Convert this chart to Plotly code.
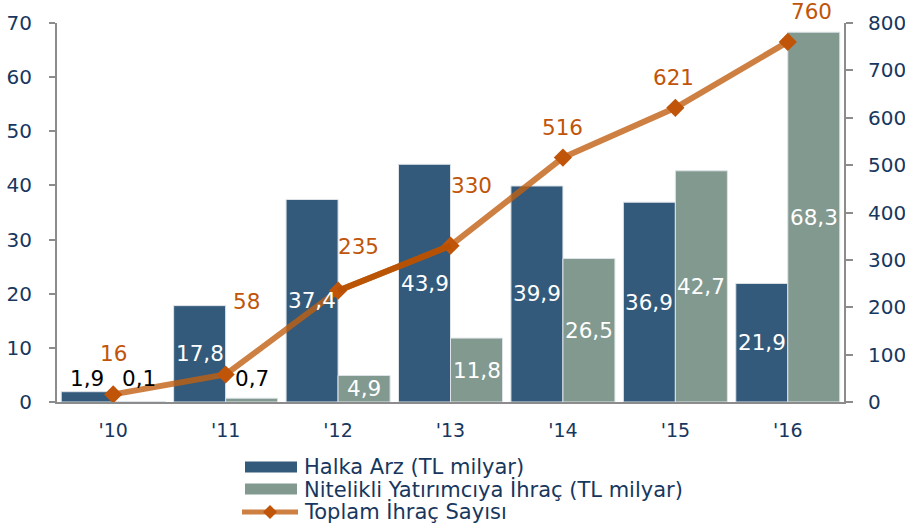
import plotly.graph_objects as go

years = ["'10", "'11", "'12", "'13", "'14", "'15", "'16"]
halka_arz = [1.9, 17.8, 37.4, 43.9, 39.9, 36.9, 21.9]
nitelikli = [0.1, 0.7, 4.9, 11.8, 26.5, 42.7, 68.3]
toplam = [16, 58, 235, 330, 516, 621, 760]

names = ["Halka Arz (TL milyar)", "Nitelikli Yatırımcıya İhraç (TL milyar)", "Toplam İhraç Sayısı"]

# styles
BLUE = "#335A7B"
GREEN = "#82998F"
LINE = "rgba(192,96,18,0.8)"
MARK = "#C0550A"
NAVY = "#17375E"
AXIS = "#8C8C8C"
FONT = "DejaVu Sans, Verdana, sans-serif"
line_label_shift = [(0, 41), (21, 73), (20, 44), (21, 60), (0, 30), (-2, 30), (24, 30)]
small_label_y = 4.4
small_limit = 3.0
W, H = 905, 528
L, R, T, B = 57, 61, 23, 126
PW, PH = W - L - R, H - T - B

def px(x):
    return (x - L) / PW

def py(y):
    return (H - B - y) / PH

def fmt(v):
    return f"{v:.1f}".replace(".", ",")

fig = go.Figure()
fig.add_trace(go.Bar(x=years, y=halka_arz, name=names[0], marker=dict(color=BLUE, line=dict(color="#DDE3E8", width=1))))
fig.add_trace(go.Bar(x=years, y=nitelikli, name=names[1], marker=dict(color=GREEN, line=dict(color="#DDE3E8", width=1))))
fig.add_trace(go.Scatter(x=years, y=toplam, name=names[2], yaxis="y2", mode="lines+markers",
                         line=dict(color=LINE, width=6),
                         marker=dict(symbol="diamond", size=14, color=MARK)))
fig.add_trace(go.Scatter(x=years[2:4], y=toplam[2:4], yaxis="y2", mode="lines", showlegend=False,
                         line=dict(color="rgba(184,80,0,0.9)", width=6), hoverinfo="skip"))

ann = []
for series, shift in ((halka_arz, -26), (nitelikli, 26)):
    for x, v in zip(years, series):
        small = v < small_limit
        ann.append(dict(x=x, y=(small_label_y if small else v / 2), xref="x", yref="y",
                        text=fmt(v), showarrow=False, xshift=shift,
                        font=dict(family=FONT, size=21.5, color="black" if small else "white")))
for x, v, (dx, dy) in zip(years, toplam, line_label_shift):
    ann.append(dict(x=x, y=v, xref="x", yref="y2", text=str(v), showarrow=False,
                    xshift=dx, yshift=dy, font=dict(family=FONT, size=21.5, color=MARK)))

# manual legend
rows = [467, 489, 512]
shapes = []
for i, (name, col) in enumerate(zip(names[:2], [BLUE, GREEN])):
    shapes.append(dict(type="rect", xref="paper", yref="paper", x0=px(245), x1=px(297),
                       y0=py(rows[i] - 5.5), y1=py(rows[i] + 5.5), fillcolor=col, line=dict(width=0)))
shapes.append(dict(type="line", xref="paper", yref="paper", x0=px(242), x1=px(298),
                   y0=py(rows[2]), y1=py(rows[2]), line=dict(color=LINE, width=5)))
shapes.append(dict(type="path", xref="paper", yref="paper",
                   path=f"M{px(263)},{py(rows[2])} L{px(270)},{py(rows[2]-7)} L{px(277)},{py(rows[2])} L{px(270)},{py(rows[2]+7)} Z",
                   fillcolor=MARK, line=dict(width=0)))
for i, name in enumerate(names):
    ann.append(dict(x=px(302), y=py(rows[i]), xref="paper", yref="paper", xanchor="left", yanchor="middle",
                    text=name, showarrow=False, font=dict(family=FONT, size=21, color=NAVY)))

fig.update_layout(
    width=W, height=H,
    margin=dict(l=L, r=R, t=T, b=B, autoexpand=False),
    paper_bgcolor="white", plot_bgcolor="white",
    barmode="group", bargap=0.075, bargroupgap=0,
    font=dict(family=FONT, size=19, color=NAVY),
    showlegend=False,
    xaxis=dict(showline=True, linecolor=AXIS, linewidth=2, ticks="", showgrid=False,
               ticklabelstandoff=10, tickfont=dict(family=FONT, size=19, color=NAVY)),
    yaxis=dict(range=[0, 70], dtick=10, showline=True, linecolor=AXIS, linewidth=2,
               ticks="outside", ticklen=6, tickcolor=AXIS, tickwidth=2, showgrid=False, zeroline=False,
               ticklabelstandoff=13, tickfont=dict(family=FONT, size=20, color=NAVY)),
    yaxis2=dict(range=[0, 800], dtick=100, overlaying="y", side="right", showline=True,
                linecolor=AXIS, linewidth=2, ticks="outside", ticklen=7, tickcolor=AXIS,
                tickwidth=2, showgrid=False, zeroline=False, ticklabelstandoff=11,
                tickfont=dict(family=FONT, size=20, color=NAVY)),
    annotations=ann,
    shapes=shapes,
)
fig.write_html("out.html", config={"displayModeBar": False},
               post_script="document.body.style.margin='0';document.body.style.overflow='hidden';")
